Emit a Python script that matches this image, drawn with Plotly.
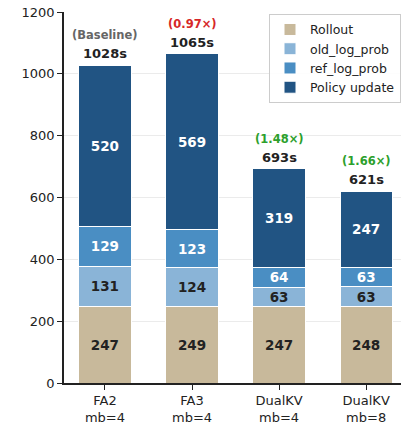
import plotly.graph_objects as go

categories = ["FA2<br>mb=4", "FA3<br>mb=4", "DualKV<br>mb=4", "DualKV<br>mb=8"]
rollout = [247, 249, 247, 248]
old_log_prob = [131, 124, 63, 63]
ref_log_prob = [129, 123, 64, 63]
policy_update = [520, 569, 319, 247]
totals = [1028, 1065, 693, 621]
speedup_labels = ["(Baseline)", "(0.97×)", "(1.48×)", "(1.66×)"]
speedup_colors = ["#666666", "#d62728", "#2ca02c", "#2ca02c"]

series = [
    ("Rollout", rollout, "#c8b99b", "#222222"),
    ("old_log_prob", old_log_prob, "#8ab4d7", "#222222"),
    ("ref_log_prob", ref_log_prob, "#4a8ec3", "#ffffff"),
    ("Policy update", policy_update, "#215483", "#ffffff"),
]

FONT = "DejaVu Sans"
fig = go.Figure()
for name, vals, color, tcolor in series:
    fig.add_trace(go.Bar(
        x=categories, y=vals, name=name,
        marker=dict(color=color, line=dict(color="white", width=1)),
        text=[str(v) for v in vals], textposition="inside",
        insidetextanchor="middle", constraintext="none",
        textfont=dict(family=FONT, size=13.5, color=tcolor, weight="bold"),
        width=0.6,
    ))

for c, t, s, sc in zip(categories, totals, speedup_labels, speedup_colors):
    fig.add_annotation(x=c, y=t, text=f"<b>{t}s</b>", showarrow=False,
                       yanchor="bottom", yshift=2,
                       font=dict(family=FONT, size=13, color="#222222"))
    fig.add_annotation(x=c, y=t, text=f"<b>{s}</b>", showarrow=False,
                       yanchor="bottom", yshift=21,
                       font=dict(family=FONT, size=11.5, color=sc))

fig.update_layout(
    barmode="stack",
    width=401, height=426,
    margin=dict(l=64, r=0, t=12, b=43, autoexpand=False),
    plot_bgcolor="white", paper_bgcolor="white",
    font=dict(family=FONT, size=13, color="#222222"),
    showlegend=True,
    legend=dict(x=1.0, y=0.995, xanchor="right", yanchor="top",
                bordercolor="#cccccc", borderwidth=1,
                bgcolor="rgba(255,255,255,0.9)",
                font=dict(family=FONT, size=12.5), tracegroupgap=0,
                traceorder="normal", itemwidth=30),
    xaxis=dict(range=[-0.47, 3.40], showline=True, linecolor="#222222", linewidth=1.5,
               ticks="outside", ticklen=5, tickcolor="#222222",
               tickfont=dict(family=FONT, size=13)),
    yaxis=dict(range=[0, 1200], dtick=200, showline=True, linecolor="#222222", linewidth=1.5,
               ticks="outside", ticklen=5, tickcolor="#222222",
               showgrid=True, gridcolor="#ebebeb", gridwidth=1,
               zeroline=False, tickfont=dict(family=FONT, size=13)),
)
fig.write_html("out.html", config={"displayModeBar": False},
               post_script="document.body.style.margin='0px';")
